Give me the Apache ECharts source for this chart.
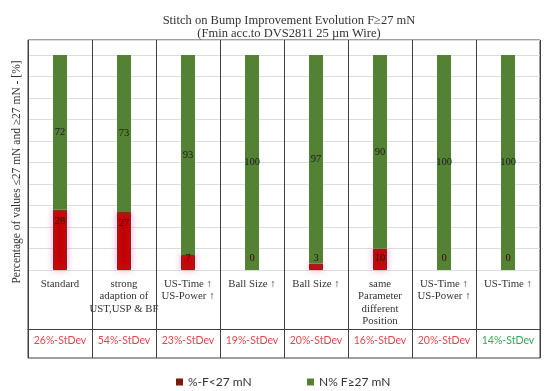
<!DOCTYPE html>
<html><head><meta charset="utf-8">
<script src="https://cdn.jsdelivr.net/npm/echarts@6/dist/echarts.min.js"></script>
<style>html,body{margin:0;padding:0;background:#fff}#c{width:550px;height:391px}</style>
</head><body><div id="c"></div>
<script>
const categories = ['Standard', 'strong\nadaption of\nUST,USP & BF', 'US-Time ↑\nUS-Power ↑', 'Ball Size ↑', 'Ball Size ↑', 'same\nParameter\ndifferent\nPosition', 'US-Time ↑\nUS-Power ↑', 'US-Time ↑'];
const belowValues = [28, 27, 7, 0, 3, 10, 0, 0];
const aboveValues = [72, 73, 93, 100, 97, 90, 100, 100];
const stdevValues = [26, 54, 23, 19, 20, 16, 20, 14];
const stdevOk = [0, 0, 0, 0, 0, 0, 0, 1];
const seriesNames = ['%-F<27 mN', 'N% F≥27 mN'];
const yTitle = 'Percentage of values ≤27 mN and ≥27 mN - [%]';
const chartTitle = 'Stitch on Bump Improvement Evolution F≥27 mN\n(Fmin acc.to DVS2811 25 µm Wire)';

const stdevLabels = stdevValues.map(v => v + '%-StDev');
const serif = 'Liberation Serif';
const frameColor = '#404040';

const chart = echarts.init(document.getElementById('c'), null, {renderer: 'canvas'});
chart.setOption({
  animation: false,
  backgroundColor: '#fff',
  title: {
    text: chartTitle,
    left: 284, top: 9, textAlign: 'center',
    textStyle: {fontFamily: serif, fontSize: 12.5, fontWeight: 'normal', color: '#333', lineHeight: 13}
  },
  grid: [
    {left: 28, right: 10, top: 40, bottom: 33, show: true, borderColor: frameColor, borderWidth: 1, backgroundColor: 'transparent'},
    {left: 28, right: 10, top: 40, height: 230},
    {left: 28, right: 10, top: 329, height: 29},
    {left: 28, right: 10, top: 58, height: 228}
  ],
  xAxis: [
    {gridIndex: 0, type: 'category', data: categories, axisLine: {show: false},
     axisTick: {show: false, interval: 0}, axisLabel: {show: false, interval: 0},
     splitLine: {show: true, interval: 0, lineStyle: {color: frameColor, width: 1}}},
    {gridIndex: 1, type: 'category', data: categories, axisLine: {show: false}, axisTick: {show: false},
     axisLabel: {interval: 0, margin: 8, fontFamily: serif, fontSize: 10.8, lineHeight: 12.3, color: '#333'}},
    {gridIndex: 2, type: 'category', data: stdevLabels, position: 'top',
     axisLine: {show: true, onZero: false, lineStyle: {color: frameColor, width: 1}}, axisTick: {show: false},
     axisLabel: {interval: 0, inside: true, margin: 6, fontFamily: 'Lato', fontSize: 10.5,
       color: (val, idx) => stdevOk[idx] ? '#3aa55a' : '#e0474c'}},
    {gridIndex: 3, type: 'category', data: categories, show: false}
  ],
  yAxis: [
    {gridIndex: 0, type: 'value', show: false},
    {gridIndex: 1, type: 'value', min: 0, max: 107, interval: 10,
     axisLine: {show: false}, axisTick: {show: false}, axisLabel: {show: false},
     splitLine: {show: true, lineStyle: {color: '#dcdcdc', width: 1}}},
    {gridIndex: 2, type: 'value', min: 0, max: 1, show: false},
    {gridIndex: 3, type: 'value', axisLine: {show: false}, axisTick: {show: false},
     axisLabel: {show: false}, splitLine: {show: false},
     name: yTitle, nameLocation: 'middle', nameGap: 5,
     nameTextStyle: {fontFamily: serif, fontSize: 11.5, color: '#333'}}
  ],
  legend: [
    {data: [{name: seriesNames[0], itemStyle: {color: '#7b1c0a', borderWidth: 0, shadowBlur: 0}}],
     left: 171, top: 371, icon: 'rect', itemWidth: 7, itemHeight: 7, itemGap: 4,
     textStyle: {fontFamily: 'Lato', fontSize: 12, color: '#333'}},
    {data: [{name: seriesNames[1], itemStyle: {color: '#548235'}}],
     left: 302, top: 371, icon: 'rect', itemWidth: 7, itemHeight: 7, itemGap: 4,
     textStyle: {fontFamily: 'Lato', fontSize: 12, color: '#333'}}
  ],
  series: [
    {name: seriesNames[0], type: 'bar', xAxisIndex: 1, yAxisIndex: 1, stack: 'total', barWidth: 14,
     data: belowValues.map(v => ({
       value: v,
       label: {position: v >= 20 ? 'insideTop' : 'insideBottom'},
       itemStyle: v === 0 ? {color: 'rgba(0,0,0,0)', borderWidth: 0, shadowBlur: 0, shadowColor: 'rgba(0,0,0,0)'} : {}
     })),
     itemStyle: {color: '#c00000', borderColor: '#7a2a10', borderWidth: 1,
       shadowColor: 'rgba(255,110,200,0.6)', shadowBlur: 6},
     label: {show: true, distance: 6, color: '#3a0808', fontFamily: serif, fontSize: 10.5}},
    {name: seriesNames[1], type: 'bar', xAxisIndex: 1, yAxisIndex: 1, stack: 'total', barWidth: 14,
     data: aboveValues,
     itemStyle: {color: '#548235'},
     label: {show: true, position: 'inside', color: '#1a1a1a', fontFamily: serif, fontSize: 10.5}}
  ]
});
</script></body></html>
